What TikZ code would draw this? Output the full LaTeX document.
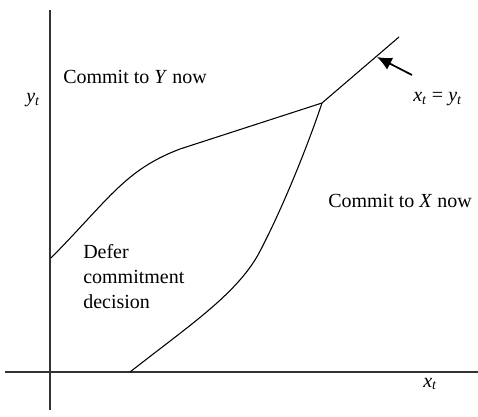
\documentclass[tikz,border=0pt]{standalone}
\usepackage{fontspec}
\setmainfont{Liberation Serif}
\usetikzlibrary{arrows.meta}
\newcommand{\vsub}[2]{\textit{#1}\textsubscript{\textit{#2}}}

\begin{document}
\begin{tikzpicture}[x=0.75pt,y=-0.75pt,>=Latex,
    axis/.style={black!80,line width=1pt},
    curve/.style={line width=0.8pt},
    lbl/.style={font=\fontsize{15pt}{18.5pt}\selectfont,inner sep=0pt,anchor=base west}]
  \useasboundingbox (0,0) rectangle (478,417);
  % axes
  \coordinate (ytop) at (50,10);
  \coordinate (ybot) at (50,410);
  \coordinate (xbeg) at (5,372);
  \coordinate (xend) at (478,372);
  \draw[axis] (ybot) -- (ytop);
  \draw[axis] (xbeg) -- (xend);
  \node[lbl] (ylab) at (26,103) {\vsub{y}{t}};
  \node[lbl] (xlab) at (423,387) {\vsub{x}{t}};

  % boundaries
  \coordinate (kink) at (322,103);
  \coordinate (diag) at (399,37);
  \coordinate (ya) at (51,258);
  \coordinate (xa) at (130,372);
  \draw[curve] (kink) -- (diag);
  \draw[curve] (ya) .. controls (110,198) and (125,170) .. (180,149) -- (kink);
  \draw[curve] (xa) .. controls (190,325) and (235,295) .. (258,255)
    .. controls (282,210) and (308,145) .. (kink);

  % labels
  \node[lbl] (diaglab) at (413,102) {\vsub{x}{t} = \vsub{y}{t}};
  \coordinate (tail) at (412,75);
  \coordinate (tip) at (377,57);
  \draw[line width=1.3pt,-{Latex[length=11pt,width=10pt]}] (tail) -- (tip);
  \node[lbl] (ynow) at (63,84) {Commit to \textit{Y} now};
  \node[lbl] (xnow) at (328,207) {Commit to \textit{X} now};
  \node[lbl,align=left] (defer) at (83,308) {Defer\\commitment\\decision};
\end{tikzpicture}
\end{document}
